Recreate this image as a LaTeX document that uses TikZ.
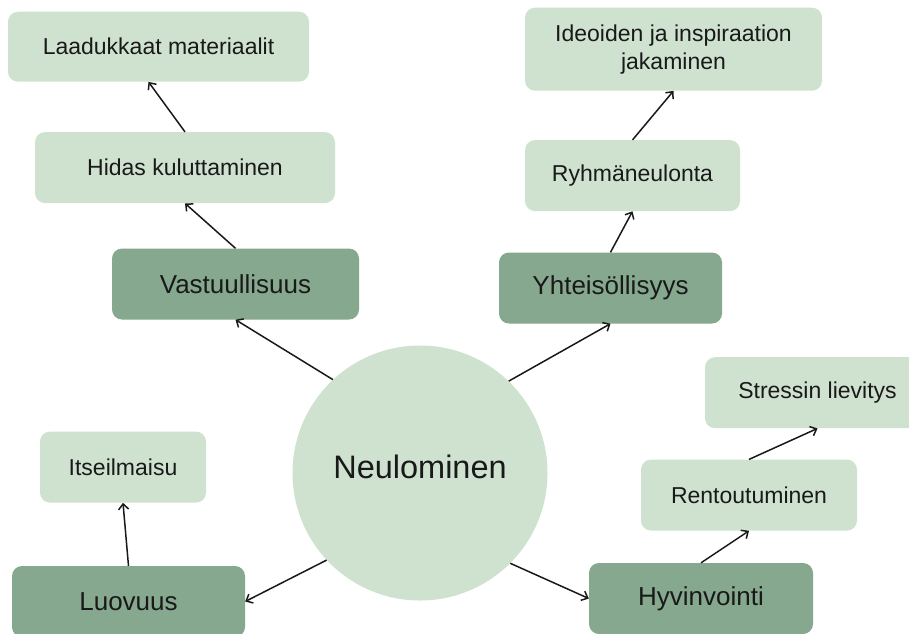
\documentclass[tikz,border=0pt]{standalone}
\usepackage{fontspec}
\setmainfont{Liberation Sans}
\usepackage{tikz}
\usetikzlibrary{positioning, arrows.meta}
\definecolor{leafgreen}{RGB}{207,226,208}
\definecolor{maingreen}{RGB}{134,168,142}
\definecolor{inkblack}{RGB}{25,25,25}
\tikzset{
	box/.style={
	rectangle, rounded corners=10pt, draw=none, inner sep=0pt, align=center, text=inkblack
	},
	leaf/.style={box, fill=leafgreen, font=\fontsize{23}{28}\selectfont, minimum height=71pt},
	theme/.style={box, fill=maingreen, font=\fontsize{26}{30}\selectfont, minimum height=71pt},
	link/.style={draw, line width=1.5pt, inkblack, -{Straight Barb[length=5.5pt,width=10pt]}},
}

\begin{document}
\begin{tikzpicture}[x=1pt, y=-1pt]
			\useasboundingbox (0,0) rectangle (909,633);
			\tikzstyle{hub}=[circle, fill=leafgreen, minimum size=255pt, inner sep=0pt, text depth=12pt, text=inkblack, font=\fontsize{32.5}{38}\selectfont]
			
			\node[hub] (neulominen) at (420,473) {Neulominen};
			
			\node[theme, minimum width=247pt] (vastuu) at (235.5,284) {Vastuullisuus};
			\node[theme, minimum width=223pt] (yhteis) at (610.5,288) {Yhteisöllisyys};
			\node[theme, minimum width=233pt] (luovuus) at (128.5,601.5) {Luovuus};
			\node[theme, minimum width=224pt] (hyvin) at (701,598.5) {Hyvinvointi};
			
			\node[leaf, minimum width=300pt, above=45pt of vastuu, xshift=-50.5pt] (hidas) {Hidas kuluttaminen};
			\node[leaf, minimum width=301pt, minimum height=70pt, above=50pt of hidas, xshift=-26.5pt] (laatu) {Laadukkaat materiaalit};
			\node[leaf, minimum width=215pt, above=41pt of yhteis, xshift=22pt] (ryhma) {Ryhmäneulonta};
			\node[leaf, minimum width=297pt, minimum height=83pt, above=49pt of ryhma, xshift=41pt] (ideat) {Ideoiden ja inspiraation\\jakaminen};
			\node[leaf, minimum width=166pt, above=63pt of luovuus, xshift=-5.5pt] (itse) {Itseilmaisu};
			\node[leaf, minimum width=216pt, above=32pt of hyvin, xshift=48pt] (rento) {Rentoutuminen};
			\node[leaf, minimum width=225pt, above=31pt of rento, xshift=68.5pt] (stressi) {Stressin lievitys};
			
			\path[link] (neulominen.133.6) -- (vastuu.south);
			\path[link] (neulominen.46.4) -- (yhteis.south);
			\path[link] (neulominen.223.6) -- (luovuus.east);
			\path[link] (neulominen.315.5) -- (hyvin.west);
			
			\path[link] (vastuu.north) -- (hidas.south);
			\path[link] (hidas.north) -- ([xshift=-10pt]laatu.south);
			\path[link] (yhteis.north) -- (ryhma.south);
			\path[link] (ryhma.north) -- (ideat.south);
			\path[link] (luovuus.north) -- (itse.south);
			\path[link] (hyvin.north) -- (rento.south);
			\path[link] (rento.north) -- (stressi.south);
		\end{tikzpicture}
\end{document}
